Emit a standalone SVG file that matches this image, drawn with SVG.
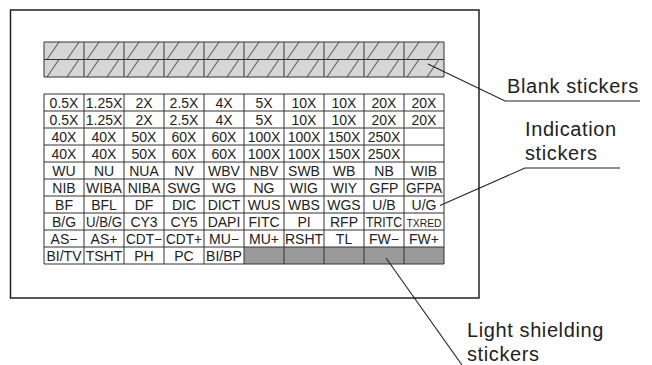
<svg xmlns="http://www.w3.org/2000/svg" width="652" height="365" viewBox="0 0 652 365">
<style>
.frame{fill:none;stroke:#222;stroke-width:1.5}
.grid{stroke:#333;stroke-width:1;fill:none}
.c{font-family:"Liberation Sans",Arial,Helvetica,sans-serif;font-size:14px;fill:#222;text-anchor:middle}
.lbl{font-family:"Liberation Sans",Arial,Helvetica,sans-serif;font-size:20px;fill:#222;letter-spacing:0.6px}
.lead{stroke:#222;stroke-width:1.1;fill:none}
.shade{fill:#9a9a9a}
</style>
<defs>
<pattern id="hatch" patternUnits="userSpaceOnUse" x="44" y="42" width="20" height="17.5">
<rect width="20" height="17.5" fill="#d6d6d6"/>
<line x1="3" y1="17.5" x2="15" y2="0" stroke="#333" stroke-width="0.9"/>
</pattern>
</defs>
<rect width="652" height="365" fill="#fff"/>
<g id="frame"><rect class="frame" x="10.5" y="10" width="468.5" height="288"/></g>

<g id="blank-stickers">
<rect x="44" y="42" width="400" height="35" fill="url(#hatch)"/>
<path class="grid" d="M44 42H444V77H44Z M44 59.5H444 M84 42V77 M124 42V77 M164 42V77 M204 42V77 M244 42V77 M284 42V77 M324 42V77 M364 42V77 M404 42V77"/>
</g>

<g id="indication-stickers">
<rect class="shade" x="244" y="247" width="200" height="17"/>
<path class="grid" d="M44 94H444V264H44Z M44 111H444 M44 128H444 M44 145H444 M44 162H444 M44 179H444 M44 196H444 M44 213H444 M44 230H444 M44 247H444 M84 94V264 M124 94V264 M164 94V264 M204 94V264 M244 94V264 M284 94V264 M324 94V264 M364 94V264 M404 94V264"/>
<g class="c">
<text x="64" y="108">0.5X</text><text x="104" y="108">1.25X</text><text x="144" y="108">2X</text><text x="184" y="108">2.5X</text><text x="224" y="108">4X</text><text x="264" y="108">5X</text><text x="304" y="108">10X</text><text x="344" y="108">10X</text><text x="384" y="108">20X</text><text x="424" y="108">20X</text>
<text x="64" y="125">0.5X</text><text x="104" y="125">1.25X</text><text x="144" y="125">2X</text><text x="184" y="125">2.5X</text><text x="224" y="125">4X</text><text x="264" y="125">5X</text><text x="304" y="125">10X</text><text x="344" y="125">10X</text><text x="384" y="125">20X</text><text x="424" y="125">20X</text>
<text x="64" y="142">40X</text><text x="104" y="142">40X</text><text x="144" y="142">50X</text><text x="184" y="142">60X</text><text x="224" y="142">60X</text><text x="264" y="142">100X</text><text x="304" y="142">100X</text><text x="344" y="142">150X</text><text x="384" y="142">250X</text>
<text x="64" y="159">40X</text><text x="104" y="159">40X</text><text x="144" y="159">50X</text><text x="184" y="159">60X</text><text x="224" y="159">60X</text><text x="264" y="159">100X</text><text x="304" y="159">100X</text><text x="344" y="159">150X</text><text x="384" y="159">250X</text>
<text x="64" y="176">WU</text><text x="104" y="176">NU</text><text x="144" y="176">NUA</text><text x="184" y="176">NV</text><text x="224" y="176">WBV</text><text x="264" y="176">NBV</text><text x="304" y="176">SWB</text><text x="344" y="176">WB</text><text x="384" y="176">NB</text><text x="424" y="176">WIB</text>
<text x="64" y="193">NIB</text><text x="104" y="193">WIBA</text><text x="144" y="193">NIBA</text><text x="184" y="193">SWG</text><text x="224" y="193">WG</text><text x="264" y="193">NG</text><text x="304" y="193">WIG</text><text x="344" y="193">WIY</text><text x="384" y="193">GFP</text><text x="424" y="193" textLength="36" lengthAdjust="spacingAndGlyphs">GFPA</text>
<text x="64" y="210">BF</text><text x="104" y="210">BFL</text><text x="144" y="210">DF</text><text x="184" y="210">DIC</text><text x="224" y="210">DICT</text><text x="264" y="210">WUS</text><text x="304" y="210">WBS</text><text x="344" y="210">WGS</text><text x="384" y="210">U/B</text><text x="424" y="210">U/G</text>
<text x="64" y="227">B/G</text><text x="104" y="227" textLength="36" lengthAdjust="spacingAndGlyphs">U/B/G</text><text x="144" y="227">CY3</text><text x="184" y="227">CY5</text><text x="224" y="227">DAPI</text><text x="264" y="227">FITC</text><text x="304" y="227">PI</text><text x="344" y="227">RFP</text><text x="384" y="227" textLength="36" lengthAdjust="spacingAndGlyphs">TRITC</text><text x="424" y="227" font-size="11.5" textLength="35" lengthAdjust="spacingAndGlyphs">TXRED</text>
<text x="64" y="244">AS−</text><text x="104" y="244">AS+</text><text x="144" y="244" textLength="36" lengthAdjust="spacingAndGlyphs">CDT−</text><text x="184" y="244" textLength="36" lengthAdjust="spacingAndGlyphs">CDT+</text><text x="224" y="244">MU−</text><text x="264" y="244">MU+</text><text x="304" y="244">RSHT</text><text x="344" y="244">TL</text><text x="384" y="244">FW−</text><text x="424" y="244">FW+</text>
<text x="64" y="261">BI/TV</text><text x="104" y="261">TSHT</text><text x="144" y="261">PH</text><text x="184" y="261">PC</text><text x="224" y="261">BI/BP</text>
</g>
</g>

<g id="connectors">
<polyline class="lead" points="428,64 505,101 640,101"/>
<polyline class="lead" points="440,205.5 525,168 620,168"/>
<line class="lead" x1="386" y1="258" x2="462" y2="365"/>
</g>

<g id="label-blank"><text class="lbl" x="507" y="92.5">Blank stickers</text></g>
<g id="label-indication"><text class="lbl" x="525" y="135.5">Indication</text><text class="lbl" x="525" y="160">stickers</text></g>
<g id="label-light"><text class="lbl" x="467" y="337">Light shielding</text><text class="lbl" x="467" y="360.5">stickers</text></g>
</svg>
